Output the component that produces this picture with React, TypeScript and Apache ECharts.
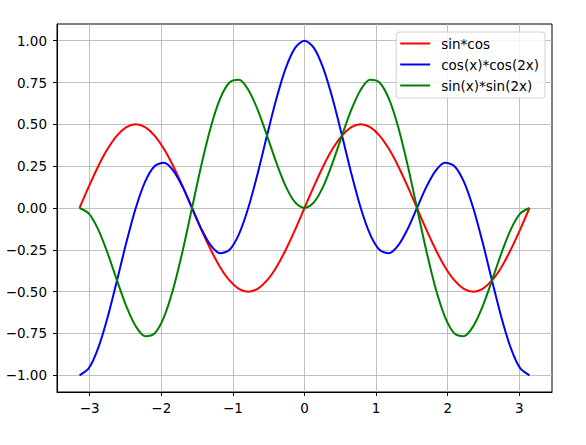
import React, { useEffect, useRef } from "react";
import * as echarts from "echarts";

const xValues = [
  -3.1416, -3.0107, -2.8798, -2.7489, -2.618, -2.4871, -2.3562, -2.2253, -2.0944, -1.9635, -1.8326, -1.7017,
  -1.5708, -1.4399, -1.309, -1.1781, -1.0472, -0.9163, -0.7854, -0.6545, -0.5236, -0.3927, -0.2618, -0.1309,
  0,
  0.1309, 0.2618, 0.3927, 0.5236, 0.6545, 0.7854, 0.9163, 1.0472, 1.1781, 1.309, 1.4399, 1.5708,
  1.7017, 1.8326, 1.9635, 2.0944, 2.2253, 2.3562, 2.4871, 2.618, 2.7489, 2.8798, 3.0107, 3.1416,
];

const sinCos = [
  0, 0.1294, 0.25, 0.3536, 0.433, 0.483, 0.5, 0.483, 0.433, 0.3536, 0.25, 0.1294,
  0, -0.1294, -0.25, -0.3536, -0.433, -0.483, -0.5, -0.483, -0.433, -0.3536, -0.25, -0.1294,
  0,
  0.1294, 0.25, 0.3536, 0.433, 0.483, 0.5, 0.483, 0.433, 0.3536, 0.25, 0.1294, 0,
  -0.1294, -0.25, -0.3536, -0.433, -0.483, -0.5, -0.483, -0.433, -0.3536, -0.25, -0.1294, 0,
];

const cosCos2 = [
  -1, -0.9576, -0.8365, -0.6533, -0.433, -0.2053, 0, 0.1576, 0.25, 0.2706, 0.2241, 0.1261,
  0, -0.1261, -0.2241, -0.2706, -0.25, -0.1576, 0, 0.2053, 0.433, 0.6533, 0.8365, 0.9576,
  1,
  0.9576, 0.8365, 0.6533, 0.433, 0.2053, 0, -0.1576, -0.25, -0.2706, -0.2241, -0.1261, 0,
  0.1261, 0.2241, 0.2706, 0.25, 0.1576, 0, -0.2053, -0.433, -0.6533, -0.8365, -0.9576, -1,
];

const sinSin2 = [
  0, -0.0338, -0.1294, -0.2706, -0.433, -0.588, -0.7071, -0.7663, -0.75, -0.6533, -0.483, -0.2566,
  0, 0.2566, 0.483, 0.6533, 0.75, 0.7663, 0.7071, 0.588, 0.433, 0.2706, 0.1294, 0.0338,
  0,
  0.0338, 0.1294, 0.2706, 0.433, 0.588, 0.7071, 0.7663, 0.75, 0.6533, 0.483, 0.2566, 0,
  -0.2566, -0.483, -0.6533, -0.75, -0.7663, -0.7071, -0.588, -0.433, -0.2706, -0.1294, -0.0338, 0,
];

const seriesNames = ["sin*cos", "cos(x)*cos(2x)", "sin(x)*sin(2x)"];
const seriesColors = ["#ff0000", "#0000ff", "#008000"];
const xTicks = [-3, -2, -1, 0, 1, 2, 3];
const yTicks = [-1, -0.75, -0.5, -0.25, 0, 0.25, 0.5, 0.75, 1];

const FONT = "DejaVu Sans";
const fmtMinus = (s: string) => s.replace("-", "\u2212");

export default function App() {
  const ref = useRef<HTMLDivElement>(null);
  useEffect(() => {
    if (!ref.current) return;
    const chart = echarts.init(ref.current, undefined, { renderer: "svg" });
    const allSeries = [sinCos, cosCos2, sinSin2];
    chart.setOption({
      animation: false,
      backgroundColor: "#ffffff",
      textStyle: { fontFamily: FONT },
      grid: {
        left: 57,
        right: 34,
        top: 24,
        bottom: 53,
        show: true,
        borderColor: "#000",
        borderWidth: 1,
        backgroundColor: "#fff",
      },
      legend: {
        orient: "vertical",
        right: 41,
        top: 32,
        padding: [4, 6, 5, 4],
        itemGap: 6,
        itemWidth: 30,
        itemHeight: 2,
        icon: "rect",
        borderColor: "#d0d0d0",
        borderWidth: 1,
        borderRadius: 3,
        backgroundColor: "rgba(255,255,255,0.8)",
        textStyle: {
          fontFamily: FONT,
          fontSize: 13.5,
          color: "#000",
          lineHeight: 15,
          padding: [0, 0, 0, 6],
        },
        data: seriesNames,
      },
      xAxis: {
        type: "value",
        min: -3.456,
        max: 3.456,
        axisLine: { show: true, onZero: false, lineStyle: { color: "#000", width: 1 } },
        axisTick: {
          show: true,
          inside: false,
          length: 4,
          lineStyle: { color: "#000" },
          customValues: xTicks,
        },
        axisLabel: {
          customValues: xTicks,
          fontFamily: FONT,
          fontSize: 13.5,
          color: "#000",
          margin: 9,
          formatter: (v: number) => fmtMinus(String(v)),
        },
        splitLine: { show: true, lineStyle: { color: "#b0b0b0", width: 0.8 } },
      },
      yAxis: {
        type: "value",
        min: -1.1,
        max: 1.1,
        axisLine: { show: true, onZero: false, lineStyle: { color: "#000", width: 1 } },
        axisTick: {
          show: true,
          inside: false,
          length: 4,
          lineStyle: { color: "#000" },
          customValues: yTicks,
        },
        axisLabel: {
          customValues: yTicks,
          fontFamily: FONT,
          fontSize: 13.5,
          color: "#000",
          margin: 10,
          formatter: (v: number) => fmtMinus(v.toFixed(2)),
        },
        splitLine: { show: true, lineStyle: { color: "#b0b0b0", width: 0.8 } },
      },
      series: allSeries.map((vals, i) => ({
        name: seriesNames[i],
        type: "line",
        data: xValues.map((x, j) => [x, vals[j]]),
        smooth: 0.3,
        showSymbol: false,
        symbol: "none",
        color: seriesColors[i],
        lineStyle: { color: seriesColors[i], width: 2 },
        z: 2 + i,
      })),
    });
    return () => chart.dispose();
  }, []);
  return (
    <div
      ref={ref}
      style={{ position: "fixed", left: 0, top: 0, width: 586, height: 445 }}
    />
  );
}
